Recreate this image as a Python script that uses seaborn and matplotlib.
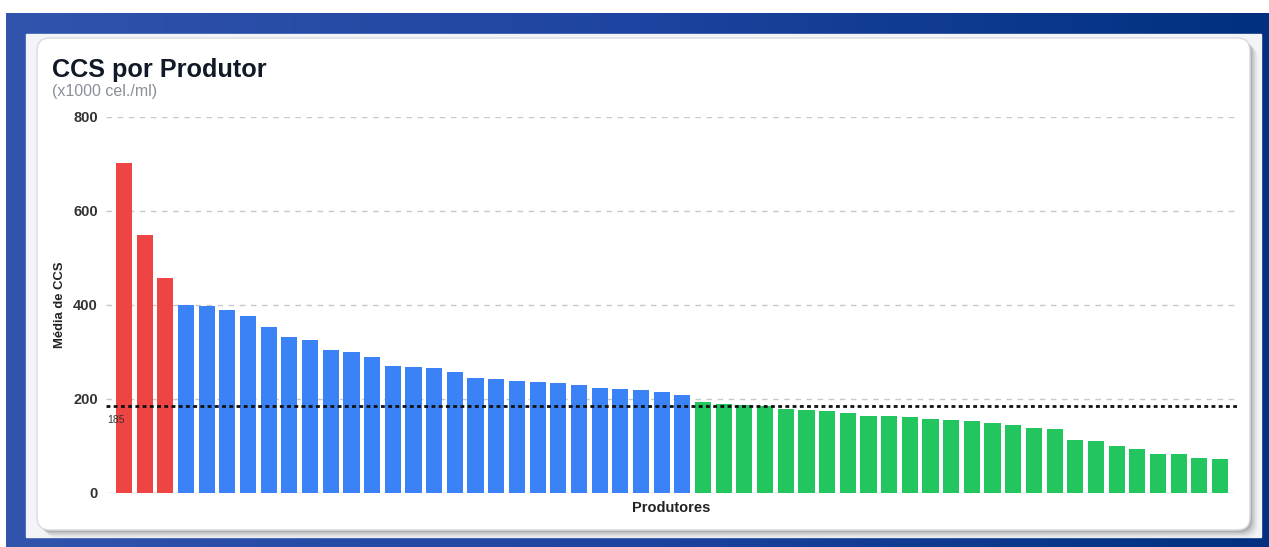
import numpy as np
import pandas as pd
import matplotlib
matplotlib.use("Agg")
import matplotlib.pyplot as plt
from matplotlib.patches import FancyBboxPatch, Rectangle
from matplotlib.colors import LinearSegmentedColormap
import seaborn as sns

# ---- data ----
red_values = [703, 548, 457]
blue_values = [399, 397, 389, 376, 353, 331, 325, 304, 300, 290, 271, 268, 265,
               257, 245, 242, 238, 237, 234, 230, 224, 222, 219, 214, 208]
green_values = [193, 190, 188, 186, 179, 176, 175, 171, 164, 163, 161, 157, 155,
                154, 150, 145, 138, 137, 113, 110, 100, 94, 84, 84, 75, 73]
reference_value = 185
y_ticks = [0, 200, 400, 600, 800]
title = "CCS por Produtor"
subtitle = "(x1000 cel./ml)"
y_label = "Média de CCS"
x_label = "Produtores"

values = red_values + blue_values + green_values
groups = (["alto"] * len(red_values) + ["medio"] * len(blue_values)
          + ["baixo"] * len(green_values))
producers = [f"P{i+1}" for i in range(len(values))]
df = pd.DataFrame({"produtor": producers, "ccs": values, "grupo": groups})
palette = {"alto": "#ef4444", "medio": "#3b82f6", "baixo": "#22c55e"}

sns.set_theme(style="white")
plt.rcParams["font.family"] = ["Liberation Sans", "DejaVu Sans"]

W, H = 1269, 547
fig = plt.figure(figsize=(W / 100, H / 100), dpi=100)

# ---- background layers ----
bg = fig.add_axes([0, 0, 1, 1], zorder=-10)
bg.set_xlim(0, W)
bg.set_ylim(H, 0)
bg.axis("off")
bg.add_patch(Rectangle((0, 0), W, H, color="white"))
grad = np.linspace(0, 1, 256).reshape(1, -1)
cmap = LinearSegmentedColormap.from_list("bgblue", ["#3154ad", "#1d44a0", "#00307f"])
bg.imshow(grad, cmap=cmap, extent=[6, W, H, 13], aspect="auto", zorder=1)
bg.add_patch(Rectangle((26, 34), 1261 - 26, 537 - 34, color="#f3f4f8", zorder=2))
# shadow
for i, a in enumerate([0.10, 0.08, 0.06, 0.04, 0.03]):
    off = 2 + i * 1.5
    bg.add_patch(FancyBboxPatch((37 + off, 38 + off), 1250 - 37, 530 - 38,
                                boxstyle="round,pad=0,rounding_size=13",
                                facecolor="#000000", edgecolor="none", alpha=a, zorder=3))
bg.add_patch(FancyBboxPatch((37, 38), 1250 - 37, 530 - 38,
                            boxstyle="round,pad=0,rounding_size=13",
                            facecolor="white", edgecolor="#d9dbe0", linewidth=1, zorder=4))

# ---- chart ----
left, right, top, bottom = 106, 1237, 117, 493
ax = fig.add_axes([left / W, 1 - bottom / H, (right - left) / W, (bottom - top) / H])
ax.set_facecolor("none")
sns.barplot(data=df, x="produtor", y="ccs", hue="grupo", palette=palette,
            dodge=False, legend=False, width=0.78, saturation=1,
            edgecolor="none", ax=ax, zorder=3)
ax.set_xlim(-0.87, len(values) - 1 + 0.82)
ax.set_ylim(0, 800)
ax.set_yticks(y_ticks)
ax.set_xticks([])
for s in ax.spines.values():
    s.set_visible(False)
for yv in y_ticks:
    ax.axhline(yv, color="#c8c8c8", linewidth=1, linestyle=(0, (4, 4)), zorder=1)
ax.axhline(reference_value, color="#111111", linewidth=2, linestyle=(0, (1.4, 1.2)), zorder=5)
ax.text(-0.8, reference_value - 19, str(reference_value), fontsize=7.5,
        color="#333333", ha="left", va="top", zorder=6)
ax.tick_params(axis="y", length=0, pad=6, labelsize=10.5, labelcolor="#333333")
for lbl in ax.get_yticklabels():
    lbl.set_fontweight("bold")
ax.set_ylabel(y_label, fontsize=9.4, fontweight="bold", color="#222222")
ax.yaxis.set_label_coords(-0.035, 0.5)
ax.set_xlabel(x_label, fontsize=10.5, fontweight="bold", color="#222222")
ax.xaxis.set_label_coords(0.5, -0.022)

fig.text(52 / W, 1 - 77 / H, title, fontsize=18.2, fontweight="bold",
         color="#111827", ha="left", va="baseline")
fig.text(52 / W, 1 - 96 / H, subtitle, fontsize=11.5, color="#8a8f99",
         ha="left", va="baseline")

fig.savefig("out.png", dpi=100)
